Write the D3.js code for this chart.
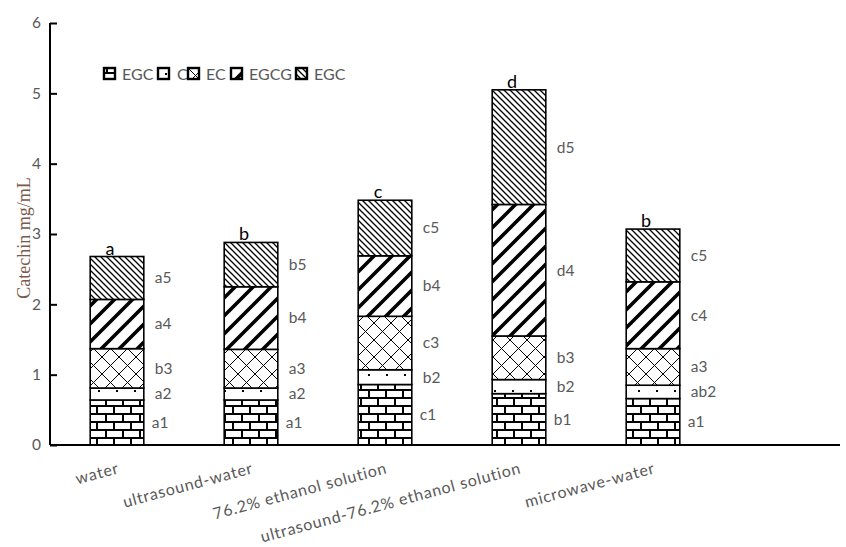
<!DOCTYPE html>
<html>
<head>
<meta charset="utf-8">
<script src="https://cdn.jsdelivr.net/npm/d3@7"></script>
<style>
  html, body { margin: 0; padding: 0; background: #fff; }
  svg { display: block; }
</style>
</head>
<body>
<svg id="chart" width="846" height="547"></svg>
<script>
// Extraction methods (x categories)
const categories = ["water", "ultrasound-water", "76.2% ethanol solution", "ultrasound-76.2% ethanol solution", "microwave-water"];
// Stacked catechin components, bottom to top (mg/mL)
const seriesNames = ["EGC", "C", "EC", "EGCG", "EGC"];
const egcBottom = [0.64, 0.64, 0.86, 0.73, 0.66];
const cValues   = [0.17, 0.17, 0.21, 0.20, 0.19];
const ecValues  = [0.56, 0.55, 0.76, 0.62, 0.52];
const egcgValues= [0.70, 0.89, 0.86, 1.87, 0.95];
const egcTop    = [0.61, 0.63, 0.79, 1.63, 0.75];
// Significance letters per segment and per total
const segLetters = [
  ["a1", "a1", "c1", "b1", "a1"],
  ["a2", "a2", "b2", "b2", "ab2"],
  ["b3", "a3", "c3", "b3", "a3"],
  ["a4", "b4", "b4", "d4", "c4"],
  ["a5", "b5", "c5", "d5", "c5"]
];
const totalLetters = ["a", "b", "c", "d", "b"];
const yTicks = [0, 1, 2, 3, 4, 5, 6];

const seriesValues = [egcBottom, cValues, ecValues, egcgValues, egcTop];
const patternIds = ["pBrick", "pDots", "pCross", "pThick", "pDense"];

const svg = d3.select("#chart");
const labelColor = "#595959";
const font = "Lato, 'Open Sans', sans-serif";

// Fill patterns
const defs = svg.append("defs");
{
  const p = defs.append("pattern").attr("id", "pBrick").attr("patternUnits", "userSpaceOnUse")
    .attr("width", 17).attr("height", 16).attr("patternTransform", "translate(0,445)");
  p.append("rect").attr("width", 17).attr("height", 16).attr("fill", "#fff");
  p.append("rect").attr("x", 0).attr("y", 0).attr("width", 17).attr("height", 2).attr("fill", "#000");
  p.append("rect").attr("x", 0).attr("y", 8).attr("width", 17).attr("height", 2).attr("fill", "#000");
  p.append("rect").attr("x", 3).attr("y", 0).attr("width", 2).attr("height", 8).attr("fill", "#000");
  p.append("rect").attr("x", 11).attr("y", 8).attr("width", 2).attr("height", 8).attr("fill", "#000");
}
{
  const p = defs.append("pattern").attr("id", "pDots").attr("patternUnits", "userSpaceOnUse")
    .attr("width", 18).attr("height", 16).attr("patternTransform", "translate(0,2)");
  p.append("rect").attr("width", 18).attr("height", 16).attr("fill", "#fff");
  p.append("rect").attr("x", 8).attr("y", 4).attr("width", 2).attr("height", 2).attr("fill", "#000");
}
{
  const p = defs.append("pattern").attr("id", "pCross").attr("patternUnits", "userSpaceOnUse")
    .attr("width", 17).attr("height", 17);
  p.append("rect").attr("width", 17).attr("height", 17).attr("fill", "#fff");
  p.append("path").attr("d", "M0,0L17,17M17,0L0,17M-1,16L1,18M16,-1L18,1M-1,1L1,-1M16,18L18,16")
    .attr("stroke", "#000").attr("stroke-width", 1);
}
{
  const p = defs.append("pattern").attr("id", "pThick").attr("patternUnits", "userSpaceOnUse")
    .attr("width", 18).attr("height", 18);
  p.append("rect").attr("width", 18).attr("height", 18).attr("fill", "#fff");
  p.append("path").attr("d", "M0,18L18,0M-9,9L9,-9M9,27L27,9")
    .attr("stroke", "#000").attr("stroke-width", 3.6);
}
{
  const p = defs.append("pattern").attr("id", "pDense").attr("patternUnits", "userSpaceOnUse")
    .attr("width", 6).attr("height", 6);
  p.append("rect").attr("width", 6).attr("height", 6).attr("fill", "#fff");
  p.append("path").attr("d", "M0,0L6,6M-3,3L3,9M3,-3L9,3")
    .attr("stroke", "#000").attr("stroke-width", 1.3);
}

// Scales
const x = d3.scaleBand().domain(categories).range([50, 720]).paddingInner(0.6).paddingOuter(0.3);
const y = d3.scaleLinear().domain([0, 6]).range([445, 23]);

// Stack the series
const table = categories.map((c, i) => {
  const row = { category: c };
  seriesValues.forEach((s, k) => row["s" + k] = s[i]);
  return row;
});
const keys = seriesValues.map((_, k) => "s" + k);
const stacked = d3.stack().keys(keys)(table);

// Bar segments
stacked.forEach((layer, k) => {
  svg.append("g").selectAll("rect").data(layer).join("rect")
    .attr("x", d => x(d.data.category))
    .attr("y", d => y(d[1]))
    .attr("width", x.bandwidth())
    .attr("height", d => y(d[0]) - y(d[1]))
    .attr("fill", `url(#${patternIds[k]})`)
    .attr("stroke", "#000").attr("stroke-width", 1.6);
});

// Segment significance labels
stacked.forEach((layer, k) => {
  svg.append("g").selectAll("text").data(layer).join("text")
    .attr("x", d => x(d.data.category) + x.bandwidth() + (k === 0 ? 8 : 11))
    .attr("y", d => (y(d[0]) + y(d[1])) / 2)
    .attr("dy", "0.35em")
    .attr("font-family", font).attr("font-size", 15.5).attr("fill", labelColor)
    .text((d, i) => segLetters[k][i]);
});

// Total significance letters
const totals = categories.map((c, i) => d3.sum(seriesValues, s => s[i]));
svg.append("g").selectAll("text").data(categories).join("text")
  .attr("x", (c) => x(c) + x.bandwidth() / 2 - 7)
  .attr("y", (c, i) => y(totals[i]) - 2)
  .attr("text-anchor", "middle")
  .attr("font-family", font).attr("font-size", 18).attr("fill", "#000")
  .text((c, i) => totalLetters[i]);

// Axes
svg.append("line").attr("x1", 50).attr("x2", 840).attr("y1", y(0)).attr("y2", y(0))
  .attr("stroke", "#000").attr("stroke-width", 2);
const yAxis = svg.append("g").attr("transform", "translate(50,0)")
  .call(d3.axisRight(y).tickValues(yTicks).tickSize(7).tickFormat(""));
yAxis.select(".domain").attr("stroke", "#000").attr("stroke-width", 2).attr("d", `M0,${y(6)}V${y(0)}`);
yAxis.selectAll(".tick line").attr("stroke", "#000").attr("stroke-width", 2);
svg.append("g").selectAll("text").data(yTicks).join("text")
  .attr("x", 41).attr("y", d => y(d)).attr("dy", "0.35em")
  .attr("text-anchor", "end")
  .attr("font-family", font).attr("font-size", 15.5).attr("fill", labelColor)
  .text(d => d);

// Y axis title
svg.append("text")
  .attr("transform", "translate(30,238) rotate(-90)")
  .attr("text-anchor", "middle")
  .attr("font-family", "'Liberation Serif', 'DejaVu Serif', serif")
  .attr("font-size", 18).attr("fill", "#7a5a4a")
  .text("Catechin mg/mL");

// Category labels
svg.append("g").selectAll("text").data(categories).join("text")
  .attr("transform", c => `translate(${x(c) + x.bandwidth() / 2 + 3},473) rotate(-15)`)
  .attr("text-anchor", "end")
  .attr("font-family", font).attr("font-size", 16).attr("letter-spacing", 0.8).attr("fill", labelColor)
  .text(c => c);

// Legend
const legendX = [103, 157, 187, 230, 295];
const legend = svg.append("g").selectAll("g").data(seriesNames).join("g")
  .attr("transform", (d, i) => `translate(${legendX[i]},67)`);
legend.append("rect").attr("x", 1).attr("y", 1).attr("width", 11).attr("height", 11)
  .attr("fill", (d, i) => `url(#${patternIds[i]})`)
  .attr("stroke", "#000").attr("stroke-width", 2.4);
legend.append("text").attr("x", (d, i) => i === 1 ? 20 : 19).attr("y", 7).attr("dy", "0.35em")
  .attr("font-family", font).attr("font-size", 16).attr("fill", labelColor)
  .text(d => d);
</script>
</body>
</html>
